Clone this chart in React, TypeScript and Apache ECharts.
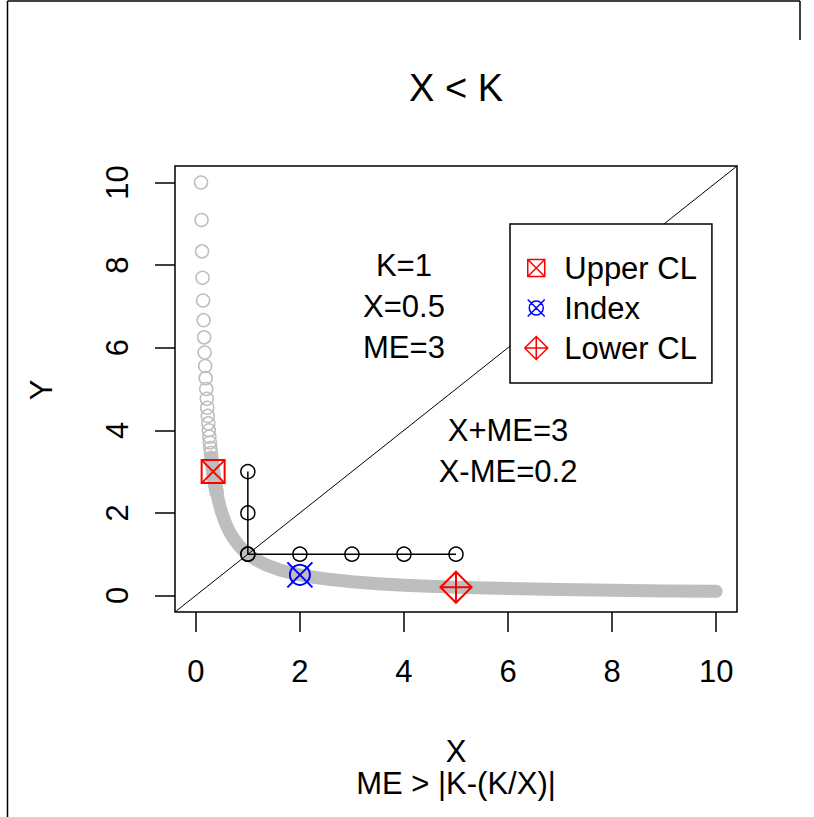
import React, { useEffect, useRef } from "react";
import * as echarts from "echarts";

const xTicks = [0, 2, 4, 6, 8, 10];
const yTicks = [0, 2, 4, 6, 8, 10];

// sparse part of Y = K/X (hollow grey rings)
const ringX = [0.1, 0.11, 0.12, 0.13, 0.14, 0.15, 0.16, 0.17, 0.18, 0.19, 0.2, 0.21, 0.22, 0.23, 0.24, 0.25, 0.26, 0.27, 0.28, 0.29, 0.3, 0.31, 0.32, 0.33, 0.34, 0.35, 0.36, 0.37, 0.38, 0.39, 0.4];
const ringY = [10, 9.091, 8.333, 7.692, 7.143, 6.667, 6.25, 5.882, 5.556, 5.263, 5, 4.762, 4.545, 4.348, 4.167, 4, 3.846, 3.704, 3.571, 3.448, 3.333, 3.226, 3.125, 3.03, 2.941, 2.857, 2.778, 2.703, 2.632, 2.564, 2.5];
// dense part (rings merge into a solid band)
const bandX = [0.3, 0.32, 0.34, 0.36, 0.38, 0.4, 0.43, 0.46, 0.5, 0.55, 0.6, 0.65, 0.7, 0.8, 0.9, 1, 1.1, 1.25, 1.4, 1.6, 1.8, 2, 2.3, 2.6, 3, 3.5, 4, 4.5, 5, 6, 7, 8, 9, 10];
const bandY = [3.333, 3.125, 2.941, 2.778, 2.632, 2.5, 2.326, 2.174, 2, 1.818, 1.667, 1.538, 1.429, 1.25, 1.111, 1, 0.909, 0.8, 0.714, 0.625, 0.556, 0.5, 0.435, 0.385, 0.333, 0.286, 0.25, 0.222, 0.2, 0.167, 0.143, 0.125, 0.111, 0.1];

const diagX = [-0.4, 10.4];
const diagY = [-0.4, 10.4];

const vertX = [1, 1, 1];
const vertY = [1, 2, 3];
const horizX = [1, 2, 3, 4, 5];
const horizY = [1, 1, 1, 1, 1];

const upperCL = [0.333, 3];
const indexPt = [2, 0.5];
const lowerCL = [5, 0.2];

const notes = ["K=1", "X=0.5", "ME=3", "X+ME=3", "X-ME=0.2"];
const noteX = [4, 4, 4, 6, 6];
const noteY = [8, 7, 6, 4, 3];

const legendNames = ["Upper CL", "Index", "Lower CL"];

const FONT = "Liberation Sans, Arial, sans-serif";
const FS = 31;

// legend icon shapes (bounding box 0..23, padded so the diamond is the largest)
const SQX = "path://M0,0M23,23M3,3L20,3L20,20L3,20Z M3,3L20,20 M20,3L3,20";
const CIRX = "path://M0,0M23,23M3,3L20,20 M20,3L3,20 M18.5,11.5C18.5,15.37 15.37,18.5 11.5,18.5C7.63,18.5 4.5,15.37 4.5,11.5C4.5,7.63 7.63,4.5 11.5,4.5C15.37,4.5 18.5,7.63 18.5,11.5Z";
const DIAP = "path://M11.5,0L23,11.5L11.5,23L0,11.5Z M11.5,0L11.5,23 M0,11.5L23,11.5";

const zip = (xs: number[], ys: number[]) => xs.map((x, i) => [x, ys[i]]);

type Kind = "sqx" | "cirx" | "diap";

const markerSeries = (name: string, pt: number[], kind: Kind, color: string) => ({
  name,
  type: "custom",
  silent: true,
  z: 5,
  data: [pt],
  itemStyle: { color: "rgba(0,0,0,0)", borderColor: color, borderWidth: 2 },
  renderItem: (_p: any, api: any) => {
    const c = api.coord([api.value(0), api.value(1)]);
    const cx = c[0];
    const cy = c[1];
    const st = { stroke: color, lineWidth: 2, fill: null };
    const ln = (x1: number, y1: number, x2: number, y2: number) => ({ type: "line", shape: { x1, y1, x2, y2 }, style: st });
    let children: any[] = [];
    if (kind === "sqx") {
      const h = 11.5;
      children = [
        { type: "rect", shape: { x: cx - h, y: cy - h, width: 2 * h, height: 2 * h }, style: st },
        ln(cx - h, cy - h, cx + h, cy + h),
        ln(cx + h, cy - h, cx - h, cy + h),
      ];
    } else if (kind === "cirx") {
      const r = 10;
      const a = 12.5;
      children = [
        { type: "circle", shape: { cx, cy, r }, style: st },
        ln(cx - a, cy - a, cx + a, cy + a),
        ln(cx + a, cy - a, cx - a, cy + a),
      ];
    } else {
      const h = 15.5;
      children = [
        { type: "polygon", shape: { points: [[cx, cy - h], [cx + h, cy], [cx, cy + h], [cx - h, cy]] }, style: st },
        ln(cx, cy - h, cx, cy + h),
        ln(cx - h, cy, cx + h, cy),
      ];
    }
    return { type: "group", children };
  },
});

export default function App() {
  const ref = useRef<HTMLDivElement>(null);
  useEffect(() => {
    if (!ref.current) return;
    const chart = echarts.init(ref.current, null, { renderer: "svg" });
    const markerStyle = (c: string, w = 1.5) => ({ color: "rgba(0,0,0,0)", borderColor: c, borderWidth: w, opacity: 1 });
    chart.setOption({
      animation: false,
      backgroundColor: "#fff",
      textStyle: { fontFamily: FONT },
      grid: {
        left: 175, top: 166, width: 562, height: 446,
        show: true, borderColor: "#000", borderWidth: 1.5, backgroundColor: "transparent",
      },
      xAxis: {
        type: "value", min: -0.4, max: 10.4,
        axisLine: { show: false, onZero: false },
        splitLine: { show: false },
        axisTick: { show: true, length: 20, lineStyle: { color: "#000", width: 1.5 }, customValues: xTicks },
        axisLabel: { fontSize: FS, color: "#000", fontFamily: FONT, margin: 44, customValues: xTicks },
      },
      yAxis: {
        type: "value", min: -0.4, max: 10.4,
        axisLine: { show: false, onZero: false },
        splitLine: { show: false },
        axisTick: { show: true, length: 20, lineStyle: { color: "#000", width: 1.5 }, customValues: yTicks },
        axisLabel: { fontSize: FS, color: "#000", fontFamily: FONT, margin: 42, rotate: 90, customValues: yTicks },
      },
      legend: {
        orient: "vertical", left: 510, top: 224,
        padding: [24, 15, 15, 14],
        borderColor: "#000", borderWidth: 1.5, backgroundColor: "#fff",
        itemWidth: 46, itemHeight: 23, itemGap: 0,
        selectedMode: false,
        textStyle: { fontSize: FS, color: "#000", fontFamily: FONT, lineHeight: 40 },
        data: [
          { name: legendNames[0], icon: SQX, itemStyle: markerStyle("#FF0000") },
          { name: legendNames[1], icon: CIRX, itemStyle: markerStyle("#0000FF") },
          { name: legendNames[2], icon: DIAP, itemStyle: markerStyle("#FF0000") },
        ],
      },
      graphic: [
        { type: "line", shape: { x1: 7.5, y1: 1, x2: 800, y2: 1 }, style: { stroke: "#000", lineWidth: 1.5 } },
        { type: "line", shape: { x1: 7.5, y1: 1, x2: 7.5, y2: 817 }, style: { stroke: "#000", lineWidth: 1.5 } },
        { type: "line", shape: { x1: 800, y1: 1, x2: 800, y2: 40 }, style: { stroke: "#000", lineWidth: 1.5 } },
        { type: "text", x: 456, y: 88, style: { text: "X < K", font: `38px ${FONT}`, fill: "#000", textAlign: "center", textVerticalAlign: "middle" } },
        { type: "text", x: 456, y: 751, style: { text: "X", font: `${FS}px ${FONT}`, fill: "#000", textAlign: "center", textVerticalAlign: "middle" } },
        { type: "text", x: 456, y: 783, style: { text: "ME > |K-(K/X)|", font: `${FS}px ${FONT}`, fill: "#000", textAlign: "center", textVerticalAlign: "middle" } },
        { type: "text", x: 41, y: 390, rotation: Math.PI / 2, style: { text: "Y", font: `${FS}px ${FONT}`, fill: "#000", textAlign: "center", textVerticalAlign: "middle" } },
      ],
      series: [
        {
          type: "line", data: zip(bandX, bandY), symbol: "none", silent: true,
          lineStyle: { color: "#BEBEBE", width: 13, cap: "round", join: "round", opacity: 1 },
        },
        {
          type: "scatter", data: zip(ringX, ringY), symbol: "circle", symbolSize: 13, silent: true,
          itemStyle: markerStyle("#BEBEBE"),
        },
        {
          type: "line", data: zip(diagX, diagY), symbol: "none", silent: true,
          lineStyle: { color: "#000", width: 1 },
        },
        {
          type: "line", data: zip(vertX, vertY), symbol: "circle", symbolSize: 14, silent: true,
          lineStyle: { color: "#000", width: 1.5 }, itemStyle: markerStyle("#000"),
        },
        {
          type: "line", data: zip(horizX, horizY), symbol: "circle", symbolSize: 14, silent: true,
          lineStyle: { color: "#000", width: 1.5 }, itemStyle: markerStyle("#000"),
        },
        markerSeries(legendNames[0], upperCL, "sqx", "#FF0000"),
        markerSeries(legendNames[1], indexPt, "cirx", "#0000FF"),
        markerSeries(legendNames[2], lowerCL, "diap", "#FF0000"),
        {
          type: "scatter", silent: true, symbolSize: 0,
          itemStyle: { opacity: 1 },
          data: notes.map((n, i) => ({ name: n, value: [noteX[i], noteY[i]] })),
          label: {
            show: true, position: "inside", formatter: (p: any) => p.name,
            fontSize: FS, color: "#000", fontFamily: FONT, opacity: 1,
          },
        },
      ],
    });
    return () => chart.dispose();
  }, []);
  return <div ref={ref} style={{ position: "absolute", left: 0, top: 0, width: 814, height: 817 }} />;
}
